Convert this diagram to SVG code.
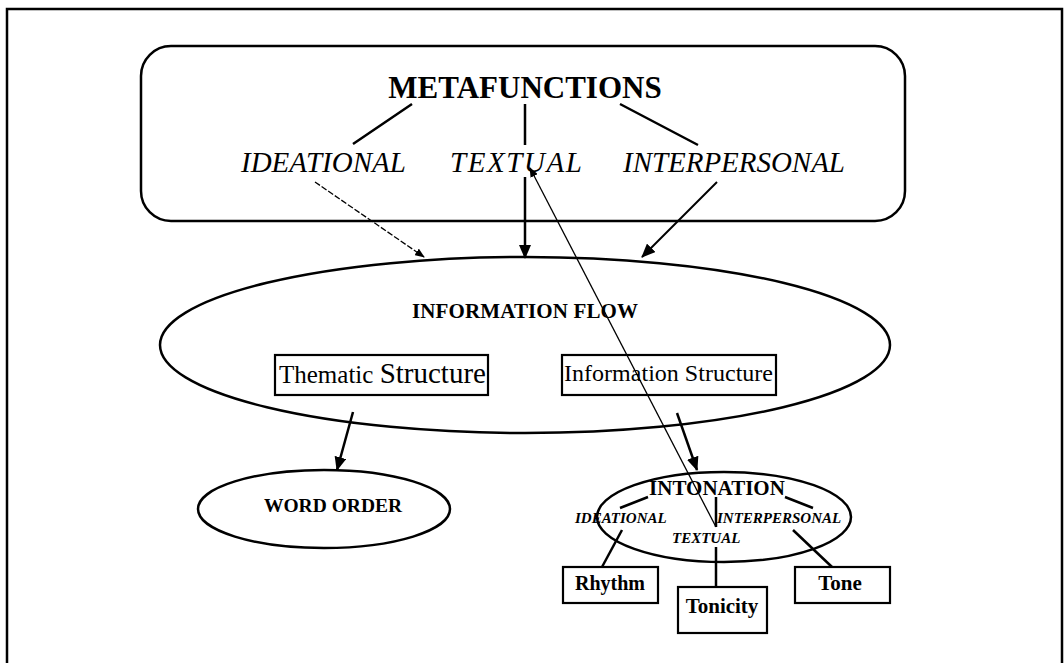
<svg xmlns="http://www.w3.org/2000/svg" width="1064" height="663" viewBox="0 0 1064 663">
<style>
.ln{stroke:#000;fill:none;stroke-width:2.5}
.th{stroke:#000;fill:none;stroke-width:1.3}
.sh{stroke:#000;fill:#fff;stroke-width:2.5}
.bx{stroke:#000;fill:#fff;stroke-width:2.2}
text{font-family:"Liberation Serif","Times New Roman",serif;fill:#000}
.b{font-weight:bold}
.i{font-style:italic}
</style>
<defs>
<marker id="ah" markerUnits="userSpaceOnUse" markerWidth="14" markerHeight="12" refX="13" refY="6" orient="auto">
<path d="M0,0 L14,6 L0,12 z" fill="#000"/>
</marker>
<marker id="as" markerUnits="userSpaceOnUse" markerWidth="10" markerHeight="8" refX="9" refY="4" orient="auto">
<path d="M0,0 L10,4 L0,8 z" fill="#000"/>
</marker>
</defs>
<rect width="1064" height="663" fill="#fff"/>
<path d="M7,663 L7,9 L1062,9 L1062,663" class="ln"/>

<g id="metafunctions">
<rect x="141" y="46" width="764" height="175" rx="30" class="sh"/>
<text x="525" y="98" font-size="31" class="b" text-anchor="middle">METAFUNCTIONS</text>
<text x="241" y="172" font-size="29" class="i">IDEATIONAL</text>
<text x="450" y="172" font-size="29" class="i" textLength="132">TEXTUAL</text>
<text x="623" y="172" font-size="29" class="i" textLength="222">INTERPERSONAL</text>
<path d="M412,104 L353,144 M525,104 L525,145 M620,104 L698,145" class="ln"/>
</g>

<g id="information-flow">
<ellipse cx="525" cy="345" rx="365" ry="88" class="sh"/>
<text x="525" y="318" font-size="21" class="b" text-anchor="middle" textLength="226">INFORMATION FLOW</text>
</g>

<g id="thematic-structure">
<rect x="275" y="355" width="213" height="40" class="bx"/>
<text x="279" y="383" font-size="25">Thematic <tspan font-size="29">Structure</tspan></text>
</g>

<g id="information-structure">
<rect x="562" y="355" width="214" height="40" class="bx"/>
<text x="564" y="381" font-size="24" textLength="209">Information Structure</text>
</g>

<g id="word-order">
<ellipse cx="324" cy="509" rx="126" ry="39" class="sh"/>
<text x="333" y="512" font-size="19.5" class="b" text-anchor="middle">WORD ORDER</text>
</g>

<g id="intonation">
<ellipse cx="724" cy="517" rx="127" ry="45" class="sh"/>
<text x="717" y="495" font-size="21" class="b" text-anchor="middle">INTONATION</text>
<text x="575" y="523" font-size="15" class="b i">IDEATIONAL</text>
<text x="717" y="523" font-size="15" class="b i">INTERPERSONAL</text>
<text x="672" y="543" font-size="15" class="b i">TEXTUAL</text>
<path d="M648,497 L620,508 M716,497 L716,527 M785,497 L813,508" class="ln"/>
</g>

<g id="rhythm">
<rect x="563" y="567" width="95" height="36" class="bx"/>
<text x="610" y="590" font-size="20" class="b" text-anchor="middle">Rhythm</text>
</g>
<g id="tonicity">
<rect x="678" y="587" width="89" height="46" class="bx"/>
<text x="722" y="613" font-size="21" class="b" text-anchor="middle">Tonicity</text>
</g>
<g id="tone">
<rect x="795" y="567" width="95" height="36" class="bx"/>
<text x="840" y="590" font-size="21" class="b" text-anchor="middle">Tone</text>
</g>

<g id="connectors">
<line x1="315" y1="182" x2="424" y2="257" class="th" stroke-dasharray="6 2" marker-end="url(#as)"/>
<line x1="525" y1="177" x2="525" y2="258" class="ln" marker-end="url(#ah)"/>
<line x1="717" y1="182" x2="642" y2="257" stroke="#000" stroke-width="2" marker-end="url(#ah)"/>
<line x1="716" y1="527" x2="530" y2="168" class="th" marker-end="url(#as)"/>
<line x1="353" y1="412" x2="337" y2="470" class="ln" marker-end="url(#ah)"/>
<line x1="677" y1="413" x2="697" y2="470" class="ln" marker-end="url(#ah)"/>
<line x1="622" y1="530" x2="602" y2="567" class="ln"/>
<line x1="716" y1="547" x2="716" y2="587" class="ln"/>
<line x1="793" y1="530" x2="832" y2="567" class="ln"/>
</g>
</svg>
